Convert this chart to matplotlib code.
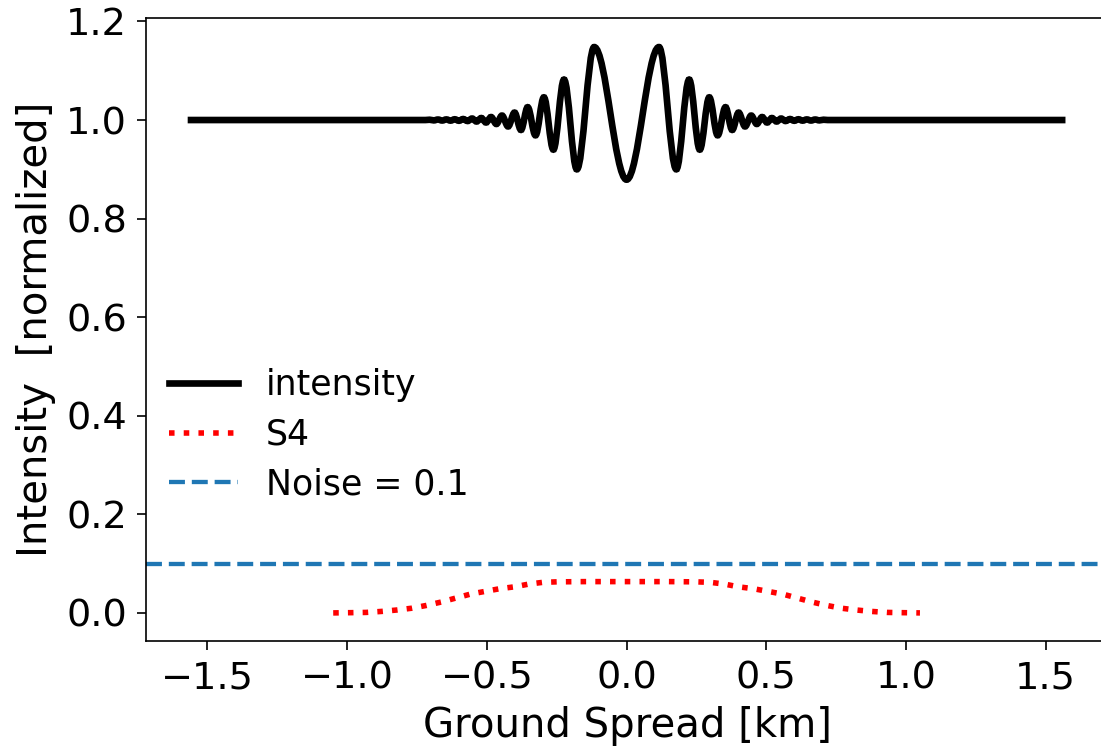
import matplotlib
matplotlib.use("Agg")
import matplotlib.pyplot as plt
from matplotlib.path import Path
from matplotlib.patches import PathPatch

# intensity: turning points of the diffraction pattern
int_x = [-1.5708, -0.720, -0.705, -0.690, -0.675, -0.660, -0.645, -0.630, -0.615,
         -0.600, -0.585, -0.569, -0.553, -0.537, -0.520, -0.503, -0.485, -0.466,
         -0.446, -0.424, -0.401, -0.378, -0.354, -0.326, -0.296, -0.262, -0.224,
         -0.178, -0.116, 0.000,
         0.116, 0.178, 0.224, 0.262, 0.296, 0.326, 0.354, 0.378, 0.401, 0.424,
         0.446, 0.466, 0.485, 0.503, 0.520, 0.537, 0.553, 0.569, 0.585, 0.600,
         0.615, 0.630, 0.645, 0.660, 0.675, 0.690, 0.705, 0.720, 1.5708]
int_y = [1.000, 1.000, 1.0006, 0.9993, 1.001, 0.999, 1.0012, 0.9988, 1.0015,
         0.9985, 1.002, 0.998, 1.003, 0.997, 1.004, 0.995, 1.006, 0.992,
         1.009, 0.987, 1.015, 0.980, 1.026, 0.969, 1.046, 0.940, 1.082,
         0.900, 1.148, 0.879,
         1.148, 0.900, 1.082, 0.940, 1.046, 0.969, 1.026, 0.980, 1.015, 0.987,
         1.009, 0.992, 1.006, 0.995, 1.004, 0.997, 1.003, 0.998, 1.002, 0.9985,
         1.0015, 0.9988, 1.0012, 0.999, 1.001, 0.9993, 1.0006, 1.000, 1.000]

s4_x = [-1.05, -0.985, -0.932, -0.877, -0.82, -0.769, -0.718, -0.664, -0.612,
        -0.56, -0.508, -0.455, -0.40, -0.35, -0.30, -0.25, -0.15, 0.0,
        0.15, 0.25, 0.30, 0.35, 0.40, 0.455, 0.508, 0.56, 0.612, 0.664,
        0.718, 0.769, 0.82, 0.877, 0.932, 0.985, 1.05]
s4_y = [0.0, 0.0005, 0.001, 0.003, 0.006, 0.0095, 0.015, 0.022, 0.030,
        0.038, 0.0435, 0.049, 0.053, 0.0585, 0.062, 0.063, 0.0635, 0.0635,
        0.0635, 0.063, 0.062, 0.0585, 0.053, 0.049, 0.0435, 0.038, 0.030, 0.022,
        0.015, 0.0095, 0.006, 0.003, 0.001, 0.0005, 0.0]

noise = 0.1

fig = plt.figure(figsize=(11.01, 7.51), dpi=100)
ax = fig.add_axes([146 / 1101, 110 / 751, 963.4 / 1101, 623 / 751])

# smooth curve through the turning points (horizontal tangent at each one)
verts = [(int_x[0], int_y[0])]
codes = [Path.MOVETO]
for i in range(len(int_x) - 1):
    x0, y0, x1, y1 = int_x[i], int_y[i], int_x[i + 1], int_y[i + 1]
    if y0 == y1:
        verts.append((x1, y1))
        codes.append(Path.LINETO)
    else:
        d = 0.3634 * (x1 - x0)
        verts += [(x0 + d, y0), (x1 - d, y1), (x1, y1)]
        codes += [Path.CURVE4] * 3
ax.add_patch(PathPatch(Path(verts, codes), fill=False, edgecolor="black",
                       lw=4.8, transform=ax.transData))
ax.plot([], [], color="black", lw=4.8, label="intensity")

ax.plot(s4_x, s4_y, color="red", ls=":", lw=4.0, label="S4")
ax.axhline(noise, color="#1f77b4", ls="--", lw=3.1, label="Noise = 0.1")

ax.set_xlim(-1.72, 1.728)
ax.set_ylim(-0.057, 1.207)
ax.set_xticks([-1.5, -1.0, -0.5, 0.0, 0.5, 1.0, 1.5])
ax.set_yticks([0.0, 0.2, 0.4, 0.6, 0.8, 1.0, 1.2])
ax.tick_params(labelsize=27.5, length=6.7, width=1.2, pad=7)
for s in ax.spines.values():
    s.set_linewidth(1.2)

ax.set_xlabel("Ground Spread [km]", fontsize=29, labelpad=7)
ax.set_ylabel("Intensity  [normalized]", fontsize=29, labelpad=7)

ax.legend(loc="upper left", bbox_to_anchor=(0.009, 0.46), frameon=False,
          fontsize=25, borderaxespad=0, labelspacing=0.45,
          handlelength=2.0)

fig.savefig("out.png", dpi=100)
